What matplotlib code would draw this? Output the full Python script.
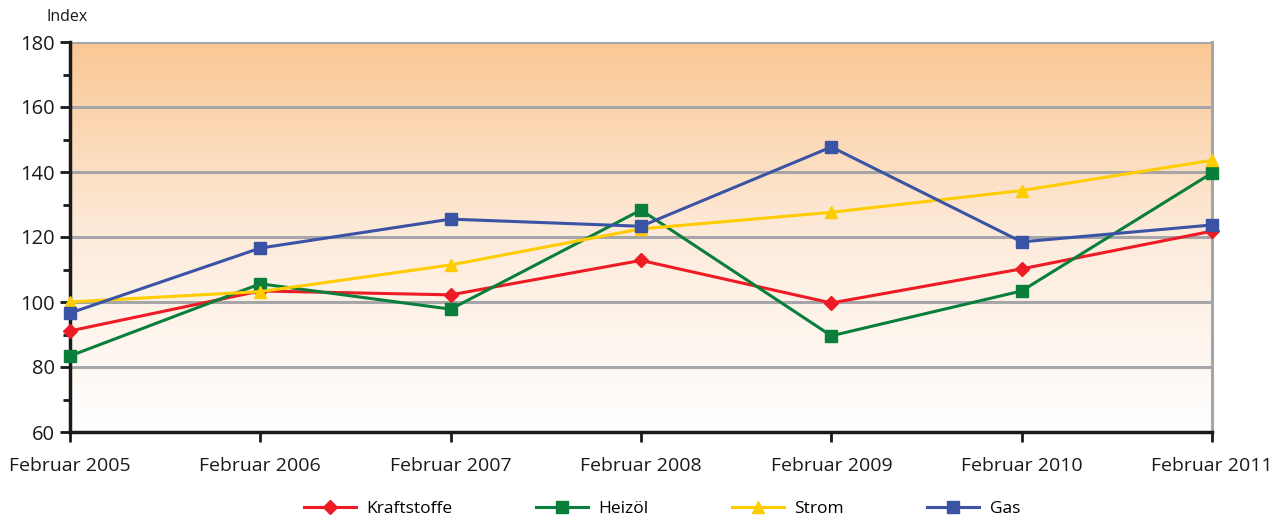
import matplotlib
matplotlib.use("Agg")
import matplotlib.pyplot as plt
import numpy as np
from matplotlib.colors import LinearSegmentedColormap
from matplotlib.ticker import MultipleLocator

plt.rcParams['font.family'] = ['Open Sans', 'DejaVu Sans']

categories = ["Februar 2005", "Februar 2006", "Februar 2007", "Februar 2008",
              "Februar 2009", "Februar 2010", "Februar 2011"]
kraftstoffe = [91.1, 103.4, 102.2, 112.8, 99.7, 110.2, 121.8]
heizoel = [83.4, 105.6, 97.8, 128.3, 89.6, 103.4, 139.7]
strom = [100.0, 103.2, 111.4, 122.5, 127.6, 134.3, 143.6]
gas = [96.6, 116.6, 125.5, 123.3, 147.7, 118.5, 123.7]

series = [
    ("Kraftstoffe", kraftstoffe, "#ED1C24", "D", 7),
    ("Heizöl", heizoel, "#0A7F3C", "s", 8),
    ("Strom", strom, "#FFCC00", "^", 9),
    ("Gas", gas, "#3A53A4", "s", 8),
]

fig = plt.figure(figsize=(12.86, 5.23), dpi=100)
ax = fig.add_axes([70/1286, 1-432/523, (1212-70)/1286, (432-42)/523])

x = np.arange(len(categories))
ax.set_xlim(0, len(categories)-1)
ax.set_ylim(60, 180)

# gradient background
cmap = LinearSegmentedColormap.from_list("bg", ["#FFFFFF", "#FDEBDB", "#FAC894"])
grad = np.linspace(0, 1, 256).reshape(-1, 1)
ax.imshow(grad, aspect='auto', cmap=cmap, origin='lower',
          extent=[0, len(categories)-1, 60, 180], zorder=0)

for yv in [80, 100, 120, 140, 160, 180]:
    ax.axhline(yv, color="#A6A6A8", lw=2.2, zorder=1)

for name, vals, col, mk, ms in series:
    ax.plot(x, vals, color=col, lw=2.2, marker=mk, markersize=ms,
            label=name, zorder=3, clip_on=False)

ax.set_xticks(x)
ax.set_xticklabels(categories, fontsize=14, color="#1a1a1a")
ax.yaxis.set_major_locator(MultipleLocator(20))
ax.yaxis.set_minor_locator(MultipleLocator(10))
ax.tick_params(axis='y', which='major', length=7, width=2, labelsize=14.5, colors="#1a1a1a", pad=4)
ax.tick_params(axis='y', which='minor', length=5, width=2, color="#1a1a1a")
ax.tick_params(axis='x', which='major', length=7, width=2, pad=11, color="#1a1a1a")

for s in ['left', 'bottom']:
    ax.spines[s].set_color("#1a1a1a")
    ax.spines[s].set_linewidth(2.5)
ax.spines['right'].set_color("#A6A6A8")
ax.spines['right'].set_linewidth(2.2)
ax.spines['top'].set_visible(False)

fig.text(47/1286, 1-17/523, "Index", fontsize=11.5, color="#1a1a1a", va='center', ha='left')

fig.legend(loc='center', bbox_to_anchor=(662/1286, 1-509/523), ncol=4, frameon=False,
           fontsize=12.5, columnspacing=4.8, handlelength=3.0, handletextpad=0.6)

fig.savefig("out.png", dpi=100)
